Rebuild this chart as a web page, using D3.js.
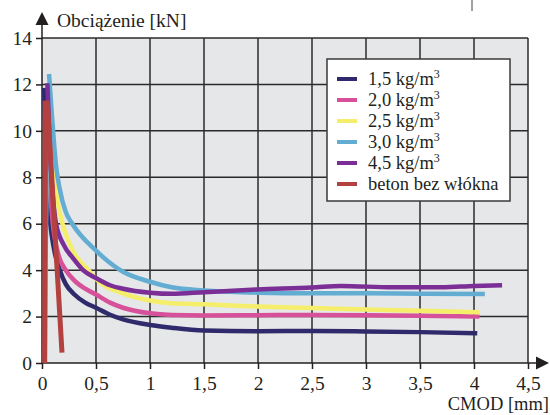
<!DOCTYPE html>
<html>
<head>
<meta charset="utf-8">
<script src="https://cdn.jsdelivr.net/npm/d3@7"></script>
<style>
  body { margin: 0; background: #fff; }
  text { font-family: "Liberation Serif", "Times New Roman", serif; fill: #231f20; }
</style>
</head>
<body>
<div id="chart"></div>
<script>
// tick values / labels
var xTicks = [0, 0.5, 1, 1.5, 2, 2.5, 3, 3.5, 4, 4.5];
var xTickLabels = ["0", "0,5", "1", "1,5", "2", "2,5", "3", "3,5", "4", "4,5"];
var yTicks = [0, 2, 4, 6, 8, 10, 12, 14];

// series: [CMOD mm, load kN]; first point = start of the rising branch
var s15 = [[0.03, 0], [0.02, 11.85], [0.035, 9.2], [0.06, 6.8], [0.09, 5.5], [0.12, 4.7], [0.165, 4.0], [0.22, 3.4], [0.3, 2.95], [0.4, 2.6], [0.5, 2.38], [0.63, 2.08], [0.75, 1.88], [1.0, 1.64], [1.2, 1.52], [1.5, 1.4], [2.0, 1.37], [2.5, 1.38], [3.0, 1.36], [3.5, 1.33], [4.03, 1.28]];
var s20 = [[0.03, 0], [0.045, 10.0], [0.07, 7.8], [0.1, 6.0], [0.15, 4.7], [0.22, 4.0], [0.3, 3.55], [0.4, 3.2], [0.5, 2.95], [0.63, 2.6], [0.75, 2.38], [1.0, 2.14], [1.2, 2.07], [1.5, 2.05], [2.0, 2.06], [2.5, 2.07], [3.0, 2.06], [3.5, 2.04], [4.05, 2.0]];
var s25 = [[0.035, 0], [0.06, 10.5], [0.1, 8.6], [0.15, 6.8], [0.19, 6.0], [0.29, 4.8], [0.43, 4.0], [0.5, 3.62], [0.75, 3.0], [1.0, 2.69], [1.2, 2.57], [1.5, 2.53], [2.0, 2.43], [2.5, 2.37], [3.0, 2.3], [3.5, 2.25], [4.05, 2.18]];
var s30 = [[0.04, 0], [0.065, 12.45], [0.09, 10.8], [0.13, 8.5], [0.16, 7.6], [0.22, 6.5], [0.28, 6.0], [0.5, 4.84], [0.75, 3.93], [1.0, 3.5], [1.2, 3.26], [1.5, 3.12], [2.0, 3.03], [2.5, 3.0], [3.0, 3.0], [3.5, 2.98], [4.1, 2.97]];
var s45 = [[0.035, 0], [0.05, 12.05], [0.07, 9.5], [0.1, 7.2], [0.13, 6.0], [0.2, 5.1], [0.29, 4.5], [0.38, 4.0], [0.5, 3.66], [0.63, 3.35], [0.75, 3.2], [1.0, 3.03], [1.2, 2.98], [1.5, 3.05], [2.0, 3.17], [2.5, 3.25], [2.77, 3.32], [3.24, 3.26], [3.7, 3.26], [4.0, 3.32], [4.26, 3.35]];
var sPlain = [[0.025, 0], [0.03, 11.2], [0.05, 11.2], [0.185, 0.45]];

var names = ["1,5 kg/m", "2,0 kg/m", "2,5 kg/m", "3,0 kg/m", "4,5 kg/m", "beton bez włókna"];
var colors = ["#2f2a6b", "#d6519a", "#f5ee6a", "#63acd2", "#7a2e96", "#b3413f"];
var allSeries = [s15, s20, s25, s30, s45, sPlain];

var width = 550, height = 415;
var svg = d3.select("#chart").append("svg")
    .attr("width", width)
    .attr("height", height);

var x = d3.scaleLinear().domain([0, 4.5]).range([42, 528]);
var y = d3.scaleLinear().domain([0, 14]).range([363, 38]);

// plot background
svg.append("rect")
    .attr("x", x(0)).attr("y", y(14))
    .attr("width", x(4.5) - x(0)).attr("height", y(0) - y(14))
    .attr("fill", "#e6e7e9");

// grid
svg.append("g").selectAll("line").data(xTicks.slice(1)).enter().append("line")
    .attr("x1", d => x(d)).attr("x2", d => x(d))
    .attr("y1", y(0)).attr("y2", y(14))
    .attr("stroke", "#2b2b2b").attr("stroke-width", 1.5);
svg.append("g").selectAll("line").data(yTicks.slice(1)).enter().append("line")
    .attr("x1", x(0)).attr("x2", x(4.5))
    .attr("y1", d => y(d)).attr("y2", d => y(d))
    .attr("stroke", "#2b2b2b").attr("stroke-width", 1.5);

// axes
var xAxis = svg.append("g").attr("transform", "translate(0," + y(0) + ")")
    .call(d3.axisBottom(x).tickValues(xTicks).tickSize(6).tickPadding(7)
        .tickFormat((d, i) => xTickLabels[i]));
var yAxis = svg.append("g").attr("transform", "translate(" + x(0) + ",0)")
    .call(d3.axisLeft(y).tickValues(yTicks).tickSize(6).tickPadding(4));
[xAxis, yAxis].forEach(function(g) {
    g.select(".domain").remove();
    g.selectAll(".tick line").attr("stroke", "#231f20").attr("stroke-width", 1.5);
    g.selectAll(".tick text").attr("font-size", 19.5)
        .attr("font-family", "Liberation Serif, serif").attr("fill", "#231f20");
});

svg.append("line").attr("x1", x(0)).attr("x2", 538).attr("y1", y(0)).attr("y2", y(0))
    .attr("stroke", "#231f20").attr("stroke-width", 1.5);
svg.append("line").attr("x1", x(0)).attr("x2", x(0)).attr("y1", y(0)).attr("y2", 24)
    .attr("stroke", "#231f20").attr("stroke-width", 1.5);
svg.append("path").attr("d", "M549,363 L536,356.5 L536,369.5 Z").attr("fill", "#231f20");
svg.append("path").attr("d", "M42,12 L35.5,25 L48.5,25 Z").attr("fill", "#231f20");

// stray mark at top
svg.append("line").attr("x1", 472).attr("x2", 472).attr("y1", 0).attr("y2", 11)
    .attr("stroke", "#444").attr("stroke-width", 1);

svg.append("text").attr("x", 57).attr("y", 27).attr("font-size", 19.5).text("Obciążenie [kN]");
svg.append("text").attr("x", 549).attr("y", 410).attr("font-size", 18.5)
    .attr("text-anchor", "end").text("CMOD [mm]");

// curves
var smooth = d3.line().x(d => x(d[0])).y(d => y(d[1])).curve(d3.curveMonotoneX);
var straight = d3.line().x(d => x(d[0])).y(d => y(d[1]));

allSeries.forEach(function(s, i) {
    if (s === sPlain) {
        svg.append("path").attr("d", straight(s)).attr("fill", "none")
            .attr("stroke", colors[i]).attr("stroke-width", 5);
        return;
    }
    svg.append("path").attr("d", straight(s.slice(0, 2))).attr("fill", "none")
        .attr("stroke", colors[i]).attr("stroke-width", 1.3);
    svg.append("path").attr("d", smooth(s.slice(1))).attr("fill", "none")
        .attr("stroke", colors[i]).attr("stroke-width", 4.5)
        .attr("stroke-linejoin", "round");
});

// legend
var lg = svg.append("g");
lg.append("rect").attr("x", 327).attr("y", 59).attr("width", 183).attr("height", 142)
    .attr("fill", "#fff").attr("stroke", "#3a3a3a").attr("stroke-width", 1.5);
names.forEach(function(n, i) {
    var ly = 79 + i * 21;
    lg.append("line").attr("x1", 337).attr("x2", 357).attr("y1", ly).attr("y2", ly)
        .attr("stroke", colors[i]).attr("stroke-width", 4);
    var t = lg.append("text").attr("x", 368).attr("y", ly + 6).attr("font-size", 18.5).text(n);
    if (i < 5) t.append("tspan").attr("dy", -7).attr("font-size", 12).text("3");
});
</script>
</body>
</html>
